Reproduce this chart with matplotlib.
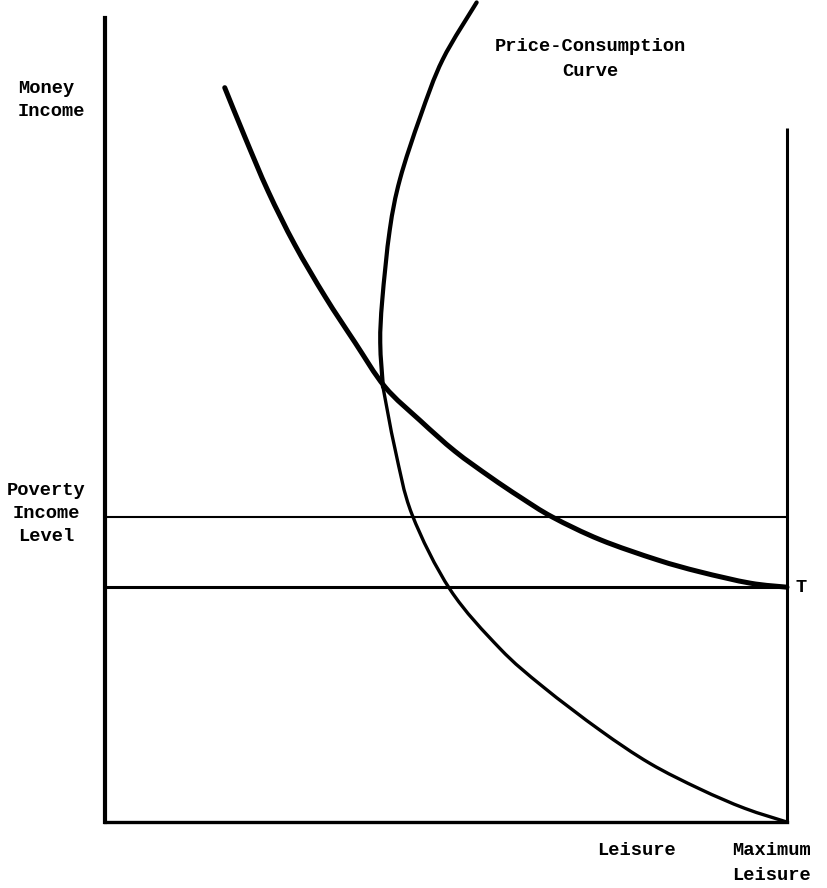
import matplotlib
matplotlib.use("Agg")
import matplotlib.pyplot as plt
import numpy as np
from matplotlib.path import Path
from matplotlib.patches import PathPatch

# leisure on x (0 .. maximum leisure = 100), money income on y (0 .. 100)
max_leisure = 100
wall_top = 86.3          # height of the vertical line at maximum leisure
poverty_level = 37.9
budget_level = 29.2      # income at T (zero work)

# indifference curve through T
indiff_x = [17.2, 20.2, 23.6, 27.5, 32.0, 36.4, 40.8, 46.0, 51.1, 56.3,
            60.7, 65.5, 72.5, 80.9, 87.2, 94.6, 100.0]
indiff_y = [91.3, 85.1, 78.4, 71.8, 65.3, 59.6, 54.1, 49.9, 46.1, 42.9,
            40.4, 37.9, 35.1, 32.6, 31.1, 29.7, 29.2]

# price-consumption curve
pcc_x = [54.3, 49.3, 46.0, 43.0, 41.5, 40.4, 40.1, 40.5, 42.3, 44.8,
         50.4, 57.7, 64.1, 72.5, 79.8, 87.2, 93.8, 100.0]
pcc_y = [101.9, 94.8, 87.7, 79.9, 73.6, 64.9, 59.6, 54.1, 46.3, 38.2,
         28.9, 21.6, 16.8, 11.4, 7.3, 4.1, 1.7, 0.0]

font = "Liberation Mono"
fs = 13.5


def smooth_path(ax, xs, ys, lw):
    # smooth curve through the points (catmull-rom -> bezier), done in pixel space
    pts = ax.transData.transform(np.column_stack([xs, ys]))
    verts = [pts[0]]
    codes = [Path.MOVETO]
    n = len(pts)
    for i in range(n - 1):
        p0 = pts[max(i - 1, 0)]
        p1 = pts[i]
        p2 = pts[i + 1]
        p3 = pts[min(i + 2, n - 1)]
        verts += [p1 + (p2 - p0) / 6, p2 - (p3 - p1) / 6, p2]
        codes += [Path.CURVE4] * 3
    verts = ax.transData.inverted().transform(np.array(verts))
    ax.add_patch(PathPatch(Path(verts, codes), facecolor="none",
                           edgecolor="black", lw=lw, capstyle="round"))


fig = plt.figure(figsize=(8.27, 8.88), dpi=100)
ax = fig.add_axes([0, 0, 1, 1])
ax.set_xlim(-15.9, 105.9)
ax.set_ylim(-8.2, 102.2)

# axes as spines
for s in ["top", "right"]:
    ax.spines[s].set_visible(False)
ax.spines["left"].set_position(("data", -0.4))
ax.spines["left"].set_bounds(0, 100)
ax.spines["left"].set_linewidth(3.0)
ax.spines["bottom"].set_position(("data", 0))
ax.spines["bottom"].set_bounds(-0.4, max_leisure)
ax.spines["bottom"].set_linewidth(2.4)
ax.set_xticks([])
ax.set_yticks([])

# vertical line at maximum leisure
ax.plot([max_leisure, max_leisure], [0, wall_top], color="black", lw=2.2,
        solid_capstyle="butt")

# poverty income level and budget line at T
ax.plot([0, max_leisure], [poverty_level, poverty_level], color="black", lw=1.5)
ax.plot([0, max_leisure], [budget_level, budget_level], color="black", lw=2.2)

# curves
smooth_path(ax, indiff_x, indiff_y, 3.6)
pcc_x = np.array(pcc_x)
pcc_y = np.array(pcc_y)
upper = pcc_y >= 54
smooth_path(ax, pcc_x[upper], pcc_y[upper], 3.0)
lower = pcc_y <= 54.1
smooth_path(ax, pcc_x[lower], pcc_y[lower], 2.4)

# labels
kw = dict(family=font, fontsize=fs, fontweight="bold")
ax.text(-13.3, 89.8, "Money\nIncome", ha="left", va="center",
        linespacing=1.45, **kw)
ax.text(71.0, 94.9, "Price-Consumption\nCurve", ha="center", va="center",
        multialignment="center", linespacing=1.6, **kw)
ax.text(-9.1, 38.4, "Poverty\nIncome\nLevel", ha="center", va="center",
        multialignment="center", linespacing=1.45, **kw)
ax.text(101.2, budget_level, "T", ha="left", va="center", **kw)
ax.text(77.8, -3.5, "Leisure", ha="center", va="center", **kw)
ax.text(92.0, -5.1, "Maximum\nLeisure", ha="left", va="center",
        linespacing=1.6, **kw)

fig.savefig("out.png", dpi=100)
